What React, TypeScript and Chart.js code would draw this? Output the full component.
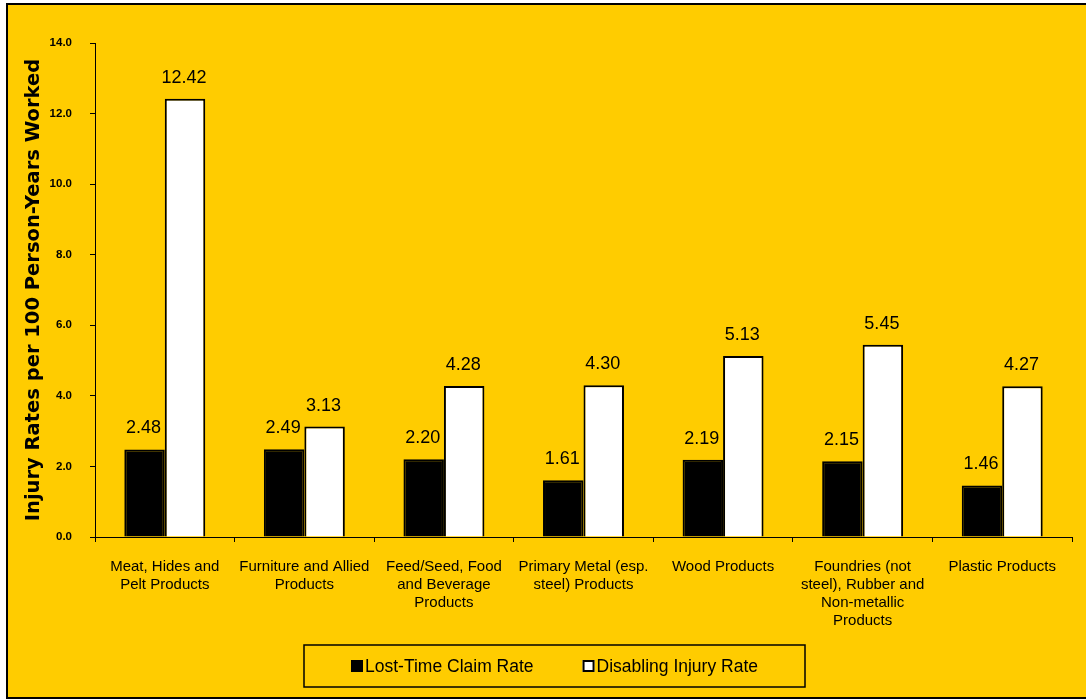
import React, { useEffect, useRef } from "react";
import { Chart, registerables } from "chart.js";

Chart.register(...registerables);

const categories: string[][] = [
  ["Meat, Hides and", "Pelt Products"],
  ["Furniture and Allied", "Products"],
  ["Feed/Seed, Food", "and Beverage", "Products"],
  ["Primary Metal (esp.", "steel) Products"],
  ["Wood Products"],
  ["Foundries (not", "steel), Rubber and", "Non-metallic", "Products"],
  ["Plastic Products"],
];
const lostTimeClaimRate = [2.48, 2.49, 2.2, 1.61, 2.19, 2.15, 1.46];
const disablingInjuryRate = [12.42, 3.13, 4.28, 4.3, 5.13, 5.45, 4.27];
const seriesNames = ["Lost-Time Claim Rate", "Disabling Injury Rate"];
const yAxisTitle = "Injury Rates per 100 Person-Years Worked";
const yMin = 0;
const yMax = 14;
const yStep = 2;

const SANS = "'Liberation Sans', Arial, sans-serif";

const valueLabels = {
  id: "valueLabels",
  afterDatasetsDraw(chart: any) {
    const ctx = chart.ctx;
    ctx.save();
    ctx.font = `18px ${SANS}`;
    ctx.fillStyle = "#000";
    ctx.textAlign = "center";
    ctx.textBaseline = "middle";
    chart.data.datasets.forEach((ds: any, di: number) => {
      const meta = chart.getDatasetMeta(di);
      meta.data.forEach((bar: any, i: number) => {
        const v = Number(ds.data[i]);
        ctx.fillText(v.toFixed(2), bar.x - 1, bar.y - 21);
      });
    });
    ctx.restore();
  },
};

const boxedLegend = {
  id: "boxedLegend",
  afterDraw(chart: any, _args: any, opts: any) {
    const ctx = chart.ctx;
    const { cx, top, bottom, halfWidth, square, gap, textGap, font } = opts;
    ctx.save();
    ctx.font = font;
    const items = chart.data.datasets.map((ds: any) => ({
      text: ds.label as string,
      fill: ds.backgroundColor as string,
      stroke: ds.borderColor as string,
    }));
    const widths = items.map((it: any) => square + textGap + ctx.measureText(it.text).width);
    const total = widths.reduce((a: number, b: number) => a + b, 0) + gap * (items.length - 1);
    const cy = (top + bottom) / 2;
    ctx.strokeStyle = "#000";
    ctx.lineWidth = 1.5;
    ctx.strokeRect(cx - halfWidth, top, halfWidth * 2, bottom - top);
    let x = cx - total / 2;
    ctx.textAlign = "left";
    ctx.textBaseline = "middle";
    items.forEach((it: any, i: number) => {
      ctx.fillStyle = it.fill;
      ctx.fillRect(x, cy - square / 2, square, square);
      ctx.strokeStyle = it.stroke;
      ctx.lineWidth = 2;
      ctx.strokeRect(x + 1, cy - square / 2 + 1, square - 2, square - 2);
      ctx.fillStyle = "#000";
      ctx.fillText(it.text, x + square + textGap, cy + 1);
      x += widths[i] + gap;
    });
    ctx.restore();
  },
};

export default function App() {
  const canvasRef = useRef<HTMLCanvasElement | null>(null);

  useEffect(() => {
    const canvas = canvasRef.current;
    if (!canvas) return;
    const chart = new Chart(canvas, {
      type: "bar",
      data: {
        labels: categories,
        datasets: [
          {
            label: seriesNames[0],
            data: lostTimeClaimRate,
            backgroundColor: "#000000",
            borderColor: "#000000",
            borderWidth: 2,
            categoryPercentage: 0.58,
            barPercentage: 1.0,
          },
          {
            label: seriesNames[1],
            data: disablingInjuryRate,
            backgroundColor: "#FFFFFF",
            borderColor: "#000000",
            borderWidth: 2,
            categoryPercentage: 0.58,
            barPercentage: 1.0,
          },
        ],
      },
      options: {
        animation: false,
        responsive: false,
        maintainAspectRatio: false,
        devicePixelRatio: 1,
        layout: { padding: { left: 22, top: 43, right: 14, bottom: 0 } },
        plugins: {
          legend: { display: false },
          tooltip: { enabled: false },
          boxedLegend: {
            cx: 554.5,
            top: 645,
            bottom: 687,
            halfWidth: 250.5,
            square: 12,
            gap: 49,
            textGap: 2,
            font: `17.5px ${SANS}`,
          },
        } as any,
        scales: {
          x: {
            offset: true,
            grid: {
              display: true,
              offset: true,
              drawOnChartArea: false,
              drawTicks: true,
              tickLength: 5,
              color: "#000",
              lineWidth: 1,
            },
            border: { display: true, color: "#000", width: 1 },
            ticks: {
              autoSkip: false,
              maxRotation: 0,
              minRotation: 0,
              padding: 16,
              color: "#000",
              font: { family: SANS, size: 15, lineHeight: 1.2 },
            },
            afterFit(scale: any) {
              scale.height = 163;
            },
          },
          y: {
            min: yMin,
            max: yMax,
            grid: {
              display: true,
              drawOnChartArea: false,
              drawTicks: true,
              tickLength: 5,
              color: "#000",
              lineWidth: 1,
            },
            border: { display: true, color: "#000", width: 1 },
            ticks: {
              stepSize: yStep,
              padding: 18,
              color: "#000",
              font: { family: SANS, size: 11.5, weight: "bold" },
              callback: (v: any) => Number(v).toFixed(1),
            },
            title: {
              display: true,
              text: yAxisTitle,
              color: "#000",
              padding: 0,
              font: { family: "'DejaVu Sans', Verdana, sans-serif", size: 19.5, weight: "bold" },
            },
            afterFit(scale: any) {
              scale.width = 73;
            },
          },
        },
      },
      plugins: [valueLabels, boxedLegend],
    });
    return () => chart.destroy();
  }, []);

  return (
    <div
      style={{
        position: "fixed",
        left: 0,
        top: 0,
        width: 1086,
        height: 700,
        overflow: "hidden",
        background: "#FFFFFF",
      }}
    >
      <div
        style={{
          position: "absolute",
          left: 6,
          top: 3,
          width: 1200,
          height: 696,
          boxSizing: "border-box",
          border: "2px solid #000",
          background: "#FFCC00",
        }}
      />
      <canvas
        ref={canvasRef}
        width={1086}
        height={700}
        style={{ position: "absolute", left: 0, top: 0, width: 1086, height: 700 }}
      />
    </div>
  );
}
